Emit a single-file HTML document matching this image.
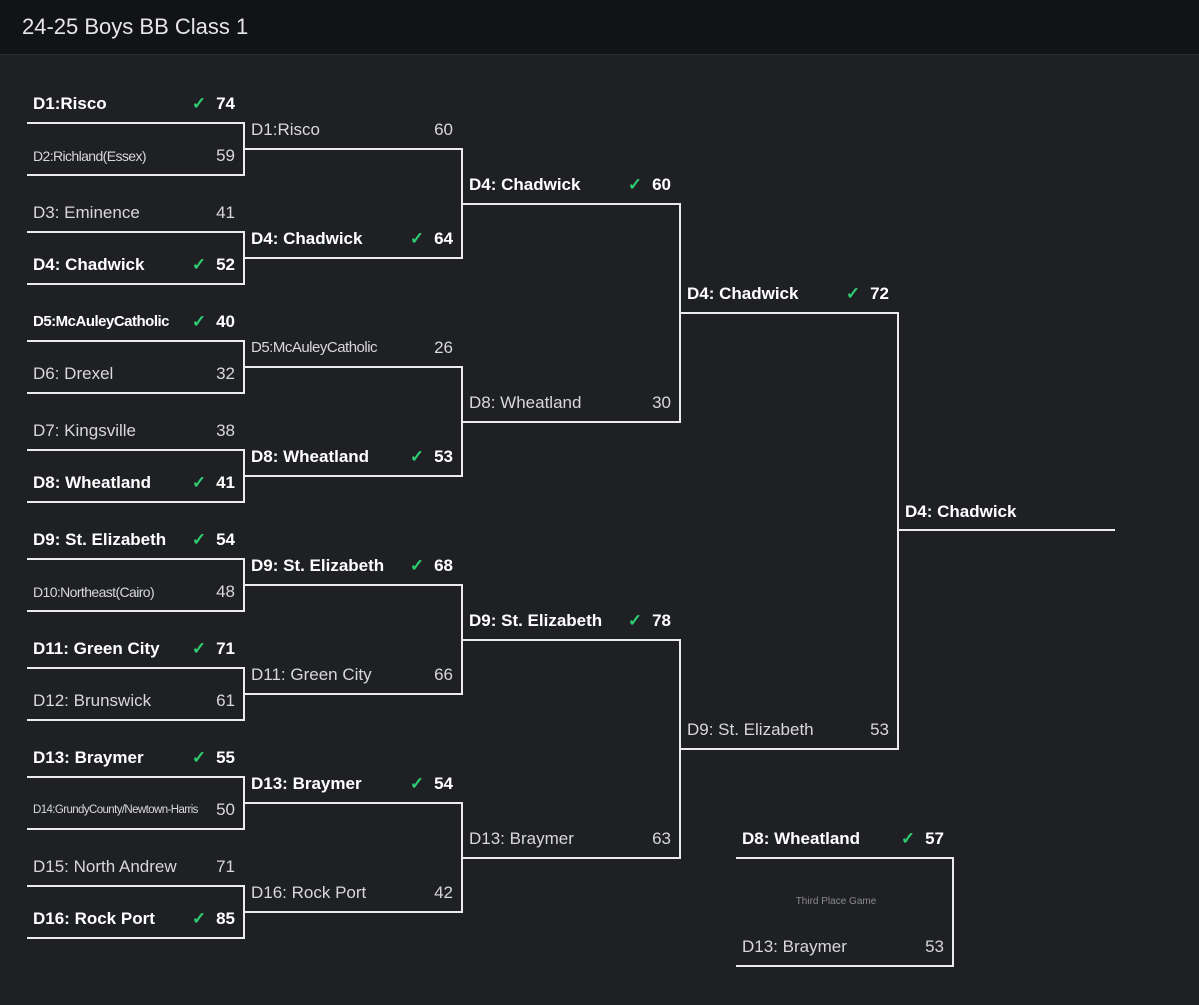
<!DOCTYPE html>
<html><head><meta charset="utf-8"><style>
body{margin:0;width:1199px;height:1005px;background:#1f2024;font-family:"Liberation Sans",sans-serif;overflow:hidden;position:relative}
.hd{position:absolute;left:0;top:0;width:1199px;height:54px;background:#121316;border-bottom:1px solid #2c2d31}
.hd span{position:absolute;left:22px;top:14px;font-size:22px;color:#e6e6e6}
.h{position:absolute;height:2px;background:#ececec}
.v{position:absolute;width:2px;background:#ececec}
.s{position:absolute;height:24px;line-height:24px;display:flex;justify-content:space-between;color:#d8d8d8;font-size:17px;white-space:nowrap}
.s.w{color:#fff;font-weight:bold}
.s .r{display:flex;gap:10px}
.s .c{color:#2ecc71;font-weight:bold}
.sm{font-size:14px;letter-spacing:-0.6px}
.xs{font-size:11.5px;letter-spacing:-0.6px}
.md{font-size:15px;letter-spacing:-0.5px}
.tp{position:absolute;left:736px;width:200px;top:896px;text-align:center;font-size:10px;color:#8a8a8a}
</style></head><body>
<div class="hd"><span>24-25 Boys BB Class 1</span></div>

<div class="h" style="left:27px;top:122px;width:218px"></div><div class="h" style="left:27px;top:174px;width:218px"></div><div class="v" style="left:243px;top:122px;height:54px"></div>
<div class="h" style="left:27px;top:231px;width:218px"></div><div class="h" style="left:27px;top:283px;width:218px"></div><div class="v" style="left:243px;top:231px;height:54px"></div>
<div class="h" style="left:27px;top:340px;width:218px"></div><div class="h" style="left:27px;top:392px;width:218px"></div><div class="v" style="left:243px;top:340px;height:54px"></div>
<div class="h" style="left:27px;top:449px;width:218px"></div><div class="h" style="left:27px;top:501px;width:218px"></div><div class="v" style="left:243px;top:449px;height:54px"></div>
<div class="h" style="left:27px;top:558px;width:218px"></div><div class="h" style="left:27px;top:610px;width:218px"></div><div class="v" style="left:243px;top:558px;height:54px"></div>
<div class="h" style="left:27px;top:667px;width:218px"></div><div class="h" style="left:27px;top:719px;width:218px"></div><div class="v" style="left:243px;top:667px;height:54px"></div>
<div class="h" style="left:27px;top:776px;width:218px"></div><div class="h" style="left:27px;top:828px;width:218px"></div><div class="v" style="left:243px;top:776px;height:54px"></div>
<div class="h" style="left:27px;top:885px;width:218px"></div><div class="h" style="left:27px;top:937px;width:218px"></div><div class="v" style="left:243px;top:885px;height:54px"></div>
<div class="h" style="left:244px;top:148px;width:219px"></div><div class="h" style="left:244px;top:257px;width:219px"></div><div class="v" style="left:461px;top:148px;height:111px"></div>
<div class="h" style="left:244px;top:366px;width:219px"></div><div class="h" style="left:244px;top:475px;width:219px"></div><div class="v" style="left:461px;top:366px;height:111px"></div>
<div class="h" style="left:244px;top:584px;width:219px"></div><div class="h" style="left:244px;top:693px;width:219px"></div><div class="v" style="left:461px;top:584px;height:111px"></div>
<div class="h" style="left:244px;top:802px;width:219px"></div><div class="h" style="left:244px;top:911px;width:219px"></div><div class="v" style="left:461px;top:802px;height:111px"></div>
<div class="h" style="left:462px;top:203px;width:219px"></div><div class="h" style="left:462px;top:421px;width:219px"></div><div class="v" style="left:679px;top:203px;height:220px"></div>
<div class="h" style="left:462px;top:639px;width:219px"></div><div class="h" style="left:462px;top:857px;width:219px"></div><div class="v" style="left:679px;top:639px;height:220px"></div>
<div class="h" style="left:680px;top:312px;width:219px"></div><div class="h" style="left:680px;top:748px;width:219px"></div><div class="v" style="left:897px;top:312px;height:438px"></div>
<div class="h" style="left:898px;top:529px;width:217px"></div>
<div class="h" style="left:736px;top:857px;width:218px"></div><div class="h" style="left:736px;top:965px;width:218px"></div><div class="v" style="left:952px;top:857px;height:110px"></div>
<div class="tp">Third Place Game</div>

<div class="s w" style="left:33px;top:92px;width:202px"><span>D1:Risco</span><span class="r"><span class="c">✓</span><span>74</span></span></div>
<div class="s" style="left:33px;top:144px;width:202px"><span class="sm">D2:Richland(Essex)</span><span>59</span></div>
<div class="s" style="left:33px;top:201px;width:202px"><span>D3: Eminence</span><span>41</span></div>
<div class="s w" style="left:33px;top:253px;width:202px"><span>D4: Chadwick</span><span class="r"><span class="c">✓</span><span>52</span></span></div>
<div class="s w" style="left:33px;top:310px;width:202px"><span class="md">D5:McAuleyCatholic</span><span class="r"><span class="c">✓</span><span>40</span></span></div>
<div class="s" style="left:33px;top:362px;width:202px"><span>D6: Drexel</span><span>32</span></div>
<div class="s" style="left:33px;top:419px;width:202px"><span>D7: Kingsville</span><span>38</span></div>
<div class="s w" style="left:33px;top:471px;width:202px"><span>D8: Wheatland</span><span class="r"><span class="c">✓</span><span>41</span></span></div>
<div class="s w" style="left:33px;top:528px;width:202px"><span>D9: St. Elizabeth</span><span class="r"><span class="c">✓</span><span>54</span></span></div>
<div class="s" style="left:33px;top:580px;width:202px"><span class="sm">D10:Northeast(Cairo)</span><span>48</span></div>
<div class="s w" style="left:33px;top:637px;width:202px"><span>D11: Green City</span><span class="r"><span class="c">✓</span><span>71</span></span></div>
<div class="s" style="left:33px;top:689px;width:202px"><span>D12: Brunswick</span><span>61</span></div>
<div class="s w" style="left:33px;top:746px;width:202px"><span>D13: Braymer</span><span class="r"><span class="c">✓</span><span>55</span></span></div>
<div class="s" style="left:33px;top:798px;width:202px"><span class="xs">D14:GrundyCounty/Newtown-Harris</span><span>50</span></div>
<div class="s" style="left:33px;top:855px;width:202px"><span>D15: North Andrew</span><span>71</span></div>
<div class="s w" style="left:33px;top:907px;width:202px"><span>D16: Rock Port</span><span class="r"><span class="c">✓</span><span>85</span></span></div>
<div class="s" style="left:251px;top:118px;width:202px"><span>D1:Risco</span><span>60</span></div>
<div class="s w" style="left:251px;top:227px;width:202px"><span>D4: Chadwick</span><span class="r"><span class="c">✓</span><span>64</span></span></div>
<div class="s" style="left:251px;top:336px;width:202px"><span class="md">D5:McAuleyCatholic</span><span>26</span></div>
<div class="s w" style="left:251px;top:445px;width:202px"><span>D8: Wheatland</span><span class="r"><span class="c">✓</span><span>53</span></span></div>
<div class="s w" style="left:251px;top:554px;width:202px"><span>D9: St. Elizabeth</span><span class="r"><span class="c">✓</span><span>68</span></span></div>
<div class="s" style="left:251px;top:663px;width:202px"><span>D11: Green City</span><span>66</span></div>
<div class="s w" style="left:251px;top:772px;width:202px"><span>D13: Braymer</span><span class="r"><span class="c">✓</span><span>54</span></span></div>
<div class="s" style="left:251px;top:881px;width:202px"><span>D16: Rock Port</span><span>42</span></div>
<div class="s w" style="left:469px;top:173px;width:202px"><span>D4: Chadwick</span><span class="r"><span class="c">✓</span><span>60</span></span></div>
<div class="s" style="left:469px;top:391px;width:202px"><span>D8: Wheatland</span><span>30</span></div>
<div class="s w" style="left:469px;top:609px;width:202px"><span>D9: St. Elizabeth</span><span class="r"><span class="c">✓</span><span>78</span></span></div>
<div class="s" style="left:469px;top:827px;width:202px"><span>D13: Braymer</span><span>63</span></div>
<div class="s w" style="left:687px;top:282px;width:202px"><span>D4: Chadwick</span><span class="r"><span class="c">✓</span><span>72</span></span></div>
<div class="s" style="left:687px;top:718px;width:202px"><span>D9: St. Elizabeth</span><span>53</span></div>
<div class="s w" style="left:905px;top:500px;width:202px"><span>D4: Chadwick</span><span></span></div>
<div class="s w" style="left:742px;top:827px;width:202px"><span>D8: Wheatland</span><span class="r"><span class="c">✓</span><span>57</span></span></div>
<div class="s" style="left:742px;top:935px;width:202px"><span>D13: Braymer</span><span>53</span></div>
</body></html>
